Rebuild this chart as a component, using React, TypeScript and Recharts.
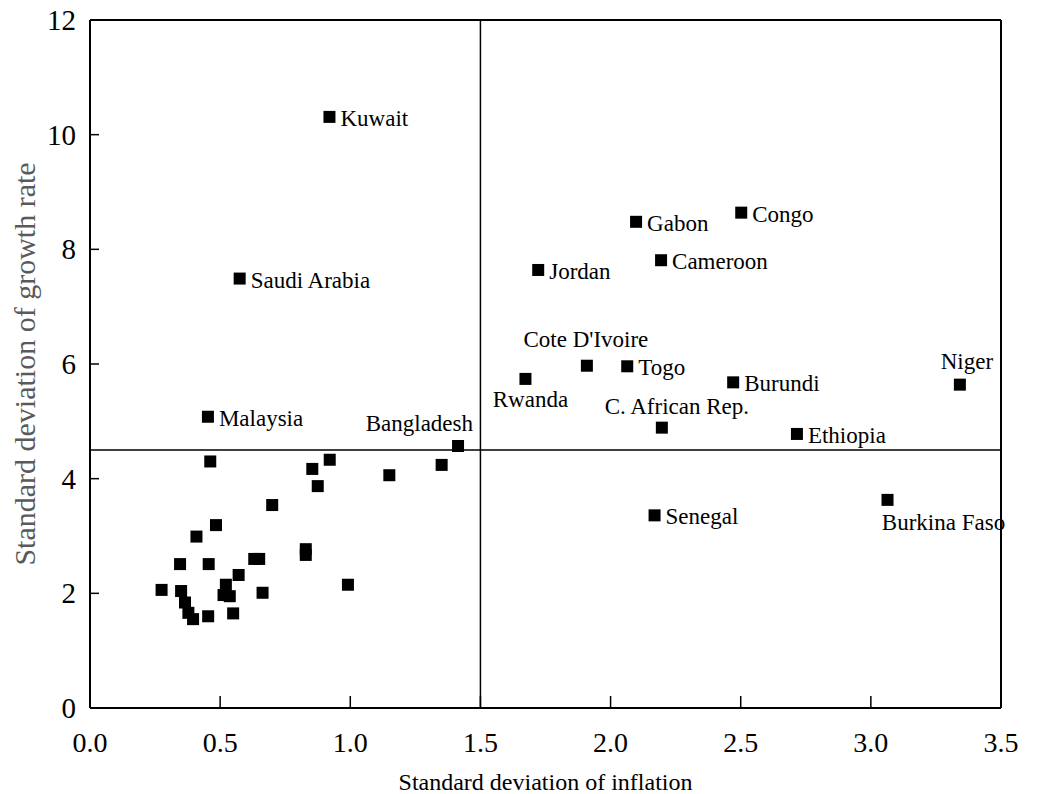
import React from 'react';
import { ScatterChart, Scatter, XAxis, YAxis, ReferenceLine } from 'recharts';

// labelled countries
const countries = [
  'Kuwait', 'Saudi Arabia', 'Malaysia', 'Bangladesh', 'Jordan', 'Gabon', 'Congo', 'Cameroon',
  "Cote D'Ivoire", 'Togo', 'Rwanda', 'Burundi', 'Niger', 'C. African Rep.', 'Ethiopia',
  'Senegal', 'Burkina Faso',
];
const inflationSd = [
  0.92, 0.575, 0.453, 1.414, 1.722, 2.098, 2.502, 2.194,
  1.909, 2.064, 1.673, 2.471, 3.342, 2.197, 2.716,
  2.169, 3.064,
];
const growthSd = [
  10.31, 7.49, 5.08, 4.57, 7.64, 8.48, 8.64, 7.81,
  5.97, 5.96, 5.74, 5.68, 5.64, 4.89, 4.78,
  3.36, 3.63,
];

// unlabelled countries
const otherInflationSd = [
  0.462, 0.921, 0.854, 0.875, 0.7, 0.484, 0.409, 0.346, 0.456, 0.631, 0.65, 0.829, 0.829,
  0.571, 0.522, 0.275, 0.35, 0.513, 0.537, 0.663, 0.991, 0.365, 0.378, 0.396, 0.454, 0.55,
  1.15, 1.351,
];
const otherGrowthSd = [
  4.3, 4.33, 4.17, 3.87, 3.54, 3.19, 2.99, 2.51, 2.51, 2.6, 2.6, 2.77, 2.67,
  2.32, 2.15, 2.06, 2.04, 1.97, 1.95, 2.01, 2.15, 1.84, 1.66, 1.55, 1.6, 1.65,
  4.06, 4.24,
];

const xTicks = [0, 0.5, 1, 1.5, 2, 2.5, 3, 3.5];
const yTicks = [0, 2, 4, 6, 8, 10, 12];
const inflationSplit = 1.5;
const growthSplit = 4.5;

const labelled = countries.map((name, i) => ({ name, x: inflationSd[i], y: growthSd[i] }));
const others = otherInflationSd.map((x, i) => ({ name: '', x, y: otherGrowthSd[i] }));

const FONT = '"Liberation Serif", "Times New Roman", serif';

// where each label sits relative to its marker (default: right of it)
const labelPlacement: Record<string, { dx: number; dy: number; anchor: 'start' | 'middle' | 'end' }> = {
  "Cote D'Ivoire": { dx: -1, dy: -19, anchor: 'middle' },
  Bangladesh: { dx: 15, dy: -15, anchor: 'end' },
  Rwanda: { dx: 5, dy: 28, anchor: 'middle' },
  'C. African Rep.': { dx: 15, dy: -14, anchor: 'middle' },
  Niger: { dx: 7, dy: -16, anchor: 'middle' },
  'Burkina Faso': { dx: 56, dy: 30, anchor: 'middle' },
};

const Marker = (props: any) => {
  const { cx, cy, payload } = props;
  const name = payload?.name;
  const p = labelPlacement[name] || { dx: 11, dy: 9, anchor: 'start' };
  return (
    <g>
      <rect x={cx - 6} y={cy - 6} width={12} height={12} fill="#000" />
      {name && (
        <text x={cx + p.dx} y={cy + p.dy} textAnchor={p.anchor} fontSize={23} fontFamily={FONT} fill="#000">
          {name}
        </text>
      )}
    </g>
  );
};

const XTick = (props: any) => {
  const { x, y, payload } = props;
  return (
    <g>
      <line x1={x} y1={y} x2={x} y2={y - 12} stroke="#000" strokeWidth={1.5} />
      <text x={x} y={y + 44} textAnchor="middle" fontSize={28} fontFamily={FONT} fill="#000">
        {payload.value.toFixed(1)}
      </text>
    </g>
  );
};

const YTick = (props: any) => {
  const { x, y, payload } = props;
  return (
    <g>
      <line x1={x} y1={y} x2={x + 9} y2={y} stroke="#000" strokeWidth={1.5} />
      <text x={x - 14} y={y} dy="0.35em" textAnchor="end" fontSize={29} fontFamily={FONT} fill="#000">
        {payload.value}
      </text>
    </g>
  );
};

export default function App() {
  return (
    <div style={{ position: 'absolute', left: 0, top: 0, background: '#fff' }}>
      <ScatterChart width={1047} height={794} margin={{ top: 20, right: 46, left: 0, bottom: 0 }}>
        <XAxis
          type="number"
          dataKey="x"
          domain={[0, 3.5]}
          ticks={xTicks}
          height={86}
          tickSize={0}
          tickMargin={0}
          tickLine={false}
          axisLine={{ stroke: '#000', strokeWidth: 2 }}
          tick={<XTick />}
          interval={0}
          label={{
            content: (p: any) => (
              <text x={p.viewBox.x + p.viewBox.width / 2} y={790} textAnchor="middle" fontSize={24} fontFamily={FONT} fill="#000">
                Standard deviation of inflation
              </text>
            ),
          }}
        />
        <YAxis
          type="number"
          dataKey="y"
          domain={[0, 12]}
          ticks={yTicks}
          width={90}
          tickSize={0}
          tickMargin={0}
          tickLine={false}
          axisLine={{ stroke: '#000', strokeWidth: 2 }}
          tick={<YTick />}
          interval={0}
          label={{
            content: (p: any) => {
              const cy = p.viewBox.y + p.viewBox.height / 2;
              return (
                <text x={35} y={cy} transform={`rotate(-90, 35, ${cy})`} textAnchor="middle" fontSize={30} fontFamily={FONT} fill="#5a5a5a">
                  Standard deviation of growth rate
                </text>
              );
            },
          }}
        />
        <ReferenceLine y={12} stroke="#000" strokeWidth={2} />
        <ReferenceLine x={3.5} stroke="#000" strokeWidth={2} />
        <ReferenceLine x={inflationSplit} stroke="#000" strokeWidth={1.5} />
        <ReferenceLine y={growthSplit} stroke="#000" strokeWidth={1.5} />
        <Scatter data={others} shape={<Marker />} isAnimationActive={false} />
        <Scatter data={labelled} shape={<Marker />} isAnimationActive={false} />
      </ScatterChart>
    </div>
  );
}
